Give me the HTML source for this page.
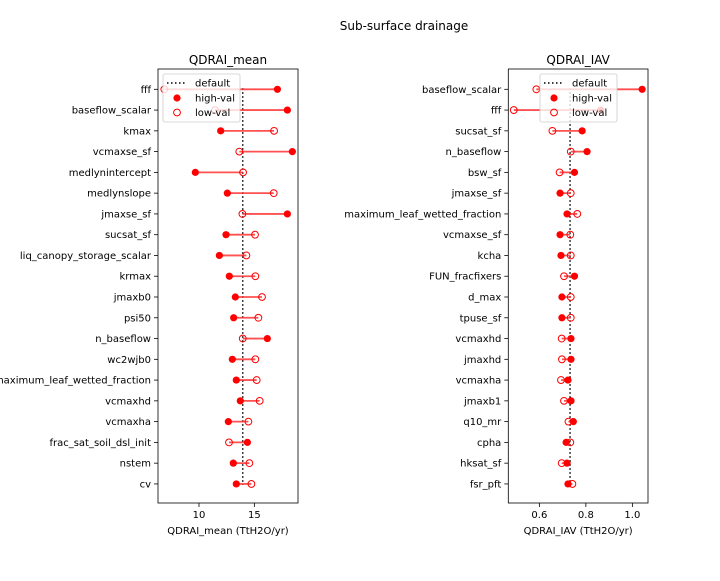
<!DOCTYPE html>
<html><head><meta charset="utf-8"><style>
body{margin:0;background:#fff;}
svg text{font-family:"DejaVu Sans","Liberation Sans",sans-serif;fill:#000;}
</style></head><body>
<svg id="chart" width="720" height="576" xmlns="http://www.w3.org/2000/svg">
<text x="404" y="30" font-size="12" text-anchor="middle">Sub-surface drainage</text>
</svg>
<script>
const leftCats=["fff","baseflow_scalar","kmax","vcmaxse_sf","medlynintercept","medlynslope","jmaxse_sf","sucsat_sf","liq_canopy_storage_scalar","krmax","jmaxb0","psi50","n_baseflow","wc2wjb0","maximum_leaf_wetted_fraction","vcmaxhd","vcmaxha","frac_sat_soil_dsl_init","nstem","cv"];
const leftHigh=[17.08,17.98,11.96,18.43,9.67,12.56,17.98,12.44,11.84,12.74,13.28,13.13,16.17,13.01,13.37,13.73,12.65,14.37,13.10,13.37];
const leftLow=[6.87,11.45,16.78,13.64,13.98,16.75,13.92,15.06,14.28,15.09,15.69,15.36,13.95,15.09,15.21,15.48,14.46,12.71,14.55,14.73];
const leftDefault=13.95;
const leftTicks=[10,15];
const rightCats=["baseflow_scalar","fff","sucsat_sf","n_baseflow","bsw_sf","jmaxse_sf","maximum_leaf_wetted_fraction","vcmaxse_sf","kcha","FUN_fracfixers","d_max","tpuse_sf","vcmaxhd","jmaxhd","vcmaxha","jmaxb1","q10_mr","cpha","hksat_sf","fsr_pft"];
const rightHigh=[1.042,0.864,0.784,0.805,0.751,0.689,0.719,0.689,0.693,0.751,0.697,0.697,0.736,0.736,0.723,0.736,0.746,0.715,0.719,0.723];
const rightLow=[0.587,0.490,0.656,0.735,0.687,0.735,0.763,0.733,0.735,0.706,0.735,0.735,0.696,0.697,0.693,0.706,0.725,0.733,0.696,0.742];
const rightDefault=0.732;
const rightTicks=[0.6,0.8,1.0];
const NS="http://www.w3.org/2000/svg";
const svg=document.getElementById('chart');
function mk(tag,attrs,parent){const e=document.createElementNS(NS,tag);for(const k in attrs)e.setAttribute(k,attrs[k]);(parent||svg).appendChild(e);return e;}
function panel(cfg){
  const g=mk('g',{});
  
  
  const L=cfg.left,R=cfg.right,T=69,B=503;
  const x=v=>L+(v-cfg.xmin)/(cfg.xmax-cfg.xmin)*(R-L);
  const y=i=>89.3+i*20.77;
  const dl=mk('line',{x1:x(cfg.def),x2:x(cfg.def),y1:y(0)-1,y2:y(cfg.cats.length-1)+1,stroke:'#000','stroke-dasharray':'1.5,2.5','stroke-width':1.5},g);
  
  
  cfg.cats.forEach((c,i)=>{
    const ln=mk('line',{x1:x(cfg.low[i]),x2:x(cfg.high[i]),y1:y(i),y2:y(i),stroke:'#ff3333','stroke-width':1.8,'stroke-opacity':0.85},g);
    
    
    const lo=mk('circle',{cx:x(cfg.low[i]),cy:y(i),r:3.4,fill:'none',stroke:'#ff0000','stroke-width':1},g);
    
    
    const hi=mk('circle',{cx:x(cfg.high[i]),cy:y(i),r:3.6,fill:'#ff0000'},g);
    
    
    mk('line',{x1:L-4,x2:L,y1:y(i),y2:y(i),stroke:'#000','stroke-width':0.8},g);
    const t=mk('text',{x:L-7,y:y(i)+3.5,'font-size':10,'text-anchor':'end'},g);
    t.textContent=c;
    
    
  });
  cfg.ticks.forEach(v=>{
    mk('line',{x1:x(v),x2:x(v),y1:B,y2:B+4,stroke:'#000','stroke-width':0.8},g);
    const t=mk('text',{x:x(v),y:B+15,'font-size':10,'text-anchor':'middle'},g);
    t.textContent=String(v.toFixed(cfg.dec));
    
    
  });
  const fr=mk('rect',{x:L,y:T,width:R-L,height:B-T,fill:'none',stroke:'#000','stroke-width':0.8},g);
  
  
  const tt=mk('text',{x:(L+R)/2,y:T-5,'font-size':12,'text-anchor':'middle'},g);
  tt.textContent=cfg.title;
  
  
  const xl=mk('text',{x:(L+R)/2,y:534,'font-size':10,'text-anchor':'middle'},g);
  xl.textContent=cfg.xlabel;
  
  
  const lg=mk('g',{},g);
  
  
  const lx=cfg.legendX,ly=74;
  mk('rect',{x:lx,y:ly,width:77,height:48,rx:2,fill:'#fff','fill-opacity':0.8,stroke:'#ccc','stroke-width':0.8},lg);
  mk('line',{x1:lx+4,x2:lx+24,y1:ly+9,y2:ly+9,stroke:'#000','stroke-dasharray':'1.5,2.5','stroke-width':1.5},lg);
  mk('circle',{cx:lx+14,cy:ly+24,r:3.6,fill:'#ff0000'},lg);
  mk('circle',{cx:lx+14,cy:ly+38.5,r:3.4,fill:'none',stroke:'#ff0000'},lg);
  [['default',9],['high-val',24],['low-val',38.5]].forEach(([s,dy])=>{
    const t=mk('text',{x:lx+32,y:ly+dy+3.5,'font-size':10},lg);
    t.textContent=s;
    
    
  });
}
panel({name:'qdrai-mean',cats:leftCats,high:leftHigh,low:leftLow,def:leftDefault,ticks:leftTicks,dec:0,left:158,right:298,xmin:6.3,xmax:18.94,title:'QDRAI_mean',xlabel:'QDRAI_mean (TtH2O/yr)',legendX:163});
panel({name:'qdrai-iav',cats:rightCats,high:rightHigh,low:rightLow,def:rightDefault,ticks:rightTicks,dec:1,left:508.3,right:648,xmin:0.4664,xmax:1.0672,title:'QDRAI_IAV',xlabel:'QDRAI_IAV (TtH2O/yr)',legendX:540});
</script>
</body></html>
